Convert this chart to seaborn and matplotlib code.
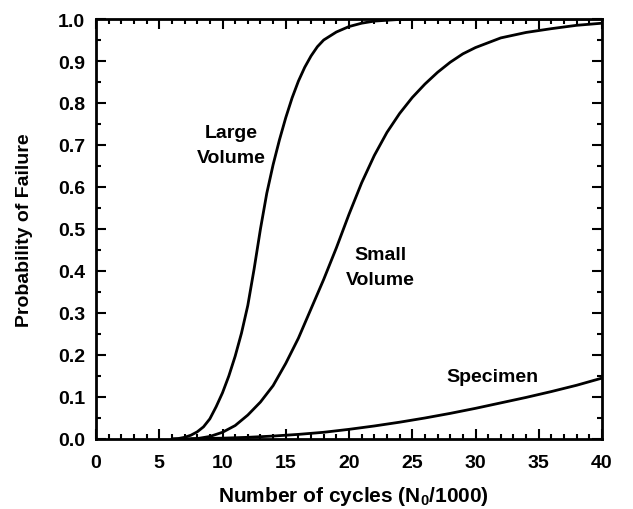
import matplotlib
matplotlib.use("Agg")
import matplotlib.pyplot as plt
from matplotlib.ticker import MultipleLocator, FormatStrFormatter
import pandas as pd
import seaborn as sns

# Failure probability vs. cycles (thousands) for three stressed volumes
large_x = [6, 6.5, 7, 7.5, 8, 8.5, 9, 9.5, 10, 10.5, 11, 11.5, 12, 12.5, 13,
           13.5, 14, 14.5, 15, 15.5, 16, 16.5, 17, 17.5, 18, 19, 20, 21, 22,
           24, 26, 40]
large_p = [0.0, 0.001, 0.004, 0.009, 0.017, 0.029, 0.048, 0.077, 0.11, 0.15,
           0.197, 0.252, 0.318, 0.405, 0.50, 0.585, 0.653, 0.712, 0.765, 0.812,
           0.852, 0.885, 0.912, 0.934, 0.95, 0.969, 0.982, 0.99, 0.995,
           0.999, 1.0, 1.0]

small_x = [7.5, 8, 9, 10, 11, 12, 13, 14, 15, 16, 17, 18, 19, 20, 21, 22, 23,
           24, 25, 26, 27, 28, 29, 30, 32, 34, 36, 38, 40]
small_p = [0.0, 0.001, 0.006, 0.016, 0.032, 0.057, 0.088, 0.127, 0.18, 0.24,
           0.31, 0.38, 0.455, 0.535, 0.61, 0.675, 0.73, 0.775, 0.813, 0.845,
           0.873, 0.897, 0.917, 0.932, 0.955, 0.968, 0.977, 0.985, 0.99]

spec_x = [6, 8, 10, 12, 14, 16, 18, 20, 22, 24, 26, 28, 30, 32, 34, 36, 38, 40]
spec_p = [0.0, 0.001, 0.002, 0.004, 0.007, 0.011, 0.016, 0.023, 0.031, 0.04,
          0.05, 0.061, 0.073, 0.086, 0.099, 0.113, 0.128, 0.145]

curve_names = ["Large\nVolume", "Small\nVolume", "Specimen"]
label_pos = [(10.7, 0.70), (22.5, 0.41), (31.3, 0.148)]

sns.set_style("ticks")
plt.rcParams["font.family"] = ["Liberation Sans", "DejaVu Sans"]
plt.rcParams["font.weight"] = "bold"
plt.rcParams["text.color"] = "black"
plt.rcParams["axes.labelcolor"] = "black"
plt.rcParams["xtick.color"] = "black"
plt.rcParams["ytick.color"] = "black"
plt.rcParams["mathtext.fontset"] = "custom"
plt.rcParams["mathtext.bf"] = "Liberation Sans:bold"
plt.rcParams["mathtext.rm"] = "Liberation Sans:bold"
plt.rcParams["mathtext.default"] = "bf"

df = pd.concat([
    pd.DataFrame({"cycles": large_x, "prob": large_p, "curve": curve_names[0]}),
    pd.DataFrame({"cycles": small_x, "prob": small_p, "curve": curve_names[1]}),
    pd.DataFrame({"cycles": spec_x, "prob": spec_p, "curve": curve_names[2]}),
])

fig = plt.figure(figsize=(6.33, 5.10), dpi=100)
ax = fig.add_axes([96 / 633, 70 / 510, 506 / 633, 420 / 510])

for name in curve_names:
    sns.lineplot(data=df[df["curve"] == name], x="cycles", y="prob",
                 color="black", linewidth=2.0, ax=ax, legend=False)

for name, (tx, ty) in zip(curve_names, label_pos):
    ax.text(tx, ty, name, ha="center", va="center", fontsize=14,
            fontweight="bold", linespacing=1.6, color="black")

ax.set_xlim(0, 40)
ax.set_ylim(0, 1.0)
ax.xaxis.set_major_locator(MultipleLocator(5))
ax.xaxis.set_minor_locator(MultipleLocator(1))
ax.yaxis.set_major_locator(MultipleLocator(0.1))
ax.yaxis.set_minor_locator(MultipleLocator(0.05))
ax.yaxis.set_major_formatter(FormatStrFormatter("%.1f"))

ax.tick_params(which="both", direction="in", top=True, right=True,
               width=1.5, color="black", labelcolor="black", labelsize=14)
ax.tick_params(which="major", length=7.5)
ax.tick_params(which="minor", length=3.5)
ax.tick_params(axis="x", which="major", pad=11)
ax.tick_params(axis="y", which="major", pad=8)
for lab in ax.get_xticklabels() + ax.get_yticklabels():
    lab.set_fontweight("bold")

for sp in ax.spines.values():
    sp.set_linewidth(2.0)
    sp.set_color("black")

ax.set_xlabel(r"Number of cycles (N$_0$/1000)", fontsize=15,
              fontweight="bold", color="black")
ax.xaxis.set_label_coords(0.5 + 4 / 506, (8 - 70) / 420)
ax.xaxis.label.set_va("baseline")
ax.set_ylabel("Probability of Failure", fontsize=14, fontweight="bold",
              color="black")
ax.yaxis.set_label_coords(25 / 633, 280 / 510, transform=fig.transFigure)
ax.yaxis.label.set_va("center")

fig.savefig("out.png", dpi=100)
